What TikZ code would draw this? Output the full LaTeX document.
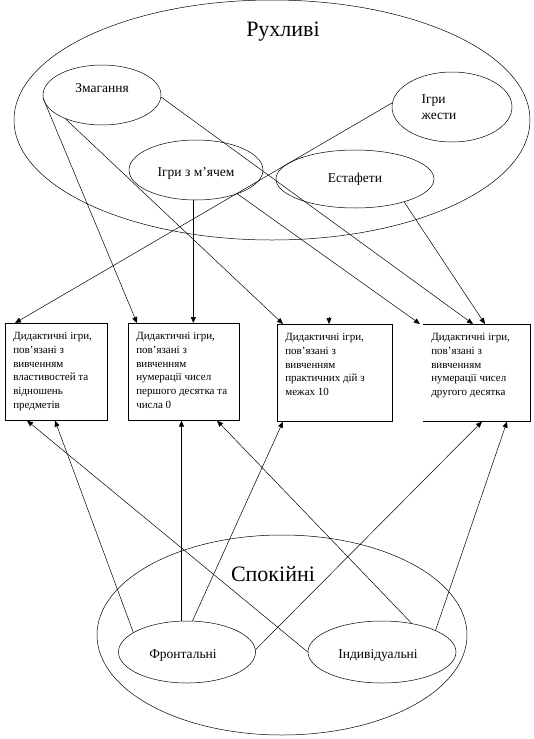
\documentclass[tikz,border=0pt]{standalone}
\usepackage{fontspec}
\setmainfont{Liberation Serif}
\usetikzlibrary{shapes.geometric,arrows.meta}
\newcommand\bxt[2]{\parbox[c][97pt][t]{#1}{\raggedright\leftskip=8pt\relax\vspace*{9pt}#2}}
\begin{document}
\begin{tikzpicture}[x=1pt,y=-1pt,
  lbl/.style={font=\fontsize{13.5}{16}\selectfont},
  ell/.style={draw, ellipse, inner sep=0pt, line width=0.5pt},
  big/.style={font=\fontsize{22}{26}\selectfont},
  dbox/.style={line width=0.6pt, anchor=north west, inner sep=0pt, font=\fontsize{11}{13.8}\selectfont},
  arr/.style={line width=0.5pt, -{Triangle[length=6pt,width=5pt]}}]
\useasboundingbox (0,0) rectangle (534,739);

% upper group
\node[ell, minimum width=516pt, minimum height=240pt] (ruh) at (272,120) {};
\node[big] (ruhlbl) at (283,32) {Рухливі};
\node[ell, minimum width=118pt, minimum height=60pt, label={[lbl,yshift=7pt]center:Змагання}] (zm) at (102,95) {};
\node[ell, minimum width=120pt, minimum height=70pt, label={[lbl,align=left,xshift=-13pt]center:Ігри\\жести}] (ig) at (452,107) {};
\node[ell, minimum width=134pt, minimum height=60pt, label={[lbl,yshift=-3pt]center:Ігри з м’ячем}] (mj) at (196,170) {};
\node[ell, minimum width=158pt, minimum height=58pt, label={[lbl]center:Естафети}] (es) at (355,179) {};

% boxes
\node[dbox, draw] (b1) at (5,323) {\bxt{102pt}{Дидактичні ігри,\\пов’язані з\\вивченням\\властивостей та\\відношень\\предметів}};
\node[dbox, draw] (b2) at (128,323) {\bxt{111pt}{Дидактичні ігри,\\пов’язані з\\вивченням\\нумерації чисел\\першого десятка та\\числа 0}};
\node[dbox, draw] (b3) at (277,324) {\bxt{115pt}{Дидактичні ігри,\\пов’язані з\\вивченням\\практичних дій з\\межах 10}};
\node[dbox] (b4) at (423,324) {\bxt{107pt}{Дидактичні ігри,\\пов’язані з\\вивченням\\нумерації чисел\\другого десятка}};
\draw[line width=0.6pt] (b4.north west) -- (b4.north east) -- (b4.south east) -- (b4.south west);

% lower group
\node[ell, minimum width=370pt, minimum height=200pt] (sp) at (282,635) {};
\node[big] (splbl) at (273,574) {Спокійні};
\node[ell, minimum width=137pt, minimum height=62pt, label={[lbl,xshift=-4pt,yshift=-3pt]center:Фронтальні}] (fr) at (187,652) {};
\node[ell, minimum width=148pt, minimum height=62pt, label={[lbl,xshift=-4pt,yshift=-3pt]center:Індивідуальні}] (in) at (382,652) {};

% connectors from the top
\draw[arr] (ig.176) -- ([xshift=10pt]b1.north west);
\draw[arr] (zm.183) -- ([xshift=9pt]b2.north west);
\draw[arr] (mj.265) -- (mj.265 |- b2.north);
\draw[arr] (zm.213) -- ([xshift=6pt]b3.north west);
\coordinate (stub) at (329,317);
\draw[arr] (stub) -- (stub |- b3.north);
\draw[arr] (mj.330) -- ([xshift=-3pt]b4.north west);
\draw[arr] (zm.358) -- ([xshift=50pt]b4.north west);
\draw[arr] (es.335) -- ([xshift=62pt]b4.north west);

% connectors from the bottom
\draw[arr] (fr.160) -- ([xshift=50pt]b1.south west);
\draw[arr] (in.180) -- ([xshift=22pt]b1.south west);
\draw[arr] (fr.100) -- (fr.100 |- b2.south);
\draw[arr] (in.44) -- ([xshift=89pt]b2.south west);
\draw[arr] (fr.80) -- ([xshift=6pt]b3.south west);
\draw[arr] (fr.2) -- ([xshift=59pt]b4.south west);
\draw[arr] (in.22) -- ([xshift=84pt]b4.south west);
\end{tikzpicture}
\end{document}
